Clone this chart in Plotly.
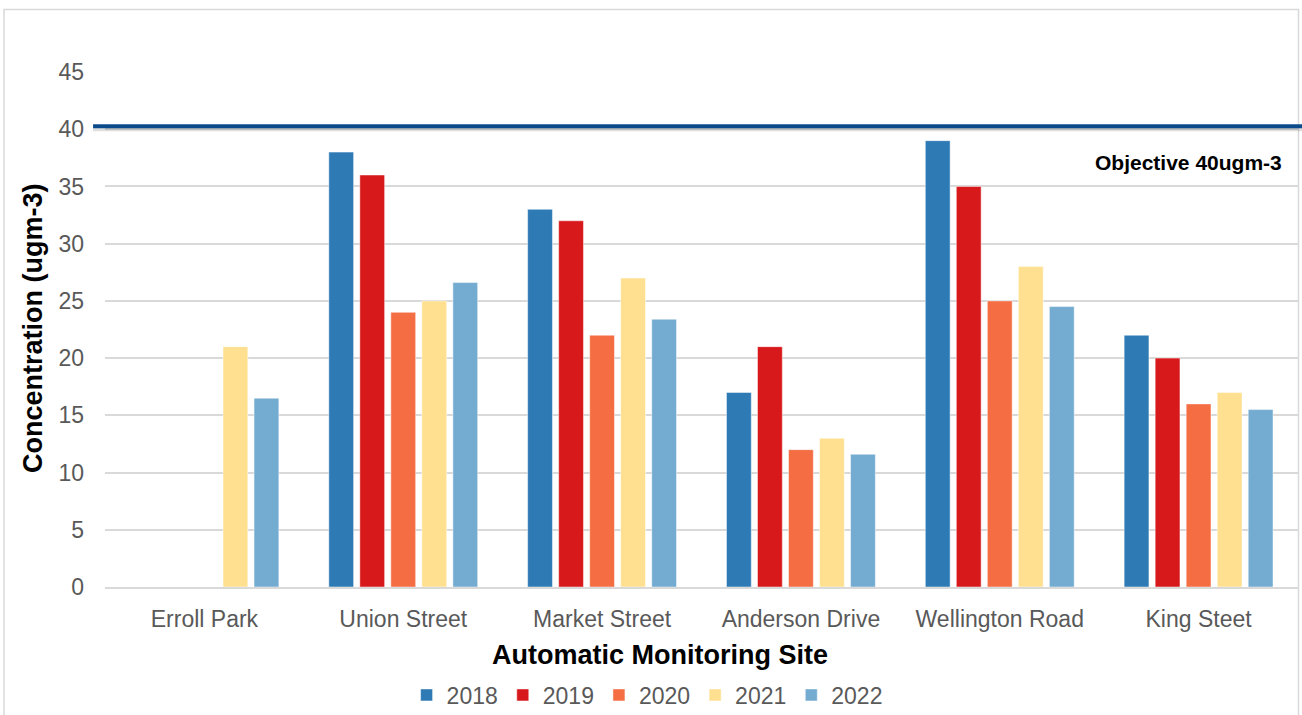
import plotly.graph_objects as go

sites = ["Erroll Park", "Union Street", "Market Street", "Anderson Drive",
         "Wellington Road", "King Steet"]
years = ["2018", "2019", "2020", "2021", "2022"]

v2018 = [None, 38, 33, 17, 39, 22]
v2019 = [None, 36, 32, 21, 35, 20]
v2020 = [None, 24, 22, 12, 25, 16]
v2021 = [21, 25, 27, 13, 28, 17]
v2022 = [16.5, 26.6, 23.4, 11.6, 24.5, 15.5]

colors = ["#2e7ab5", "#d7191c", "#f46d43", "#fee090", "#74acd1"]
objective = 40
y_ticks = [0, 5, 10, 15, 20, 25, 30, 35, 40, 45]

FONT = "Liberation Sans, Arial"
W, H = 1302, 715
L, R, T, B = 105, 4, 72, 128
plot_w, plot_h = W - L - R, H - T - B

fig = go.Figure()
for year, vals, col in zip(years, [v2018, v2019, v2020, v2021, v2022], colors):
    fig.add_trace(go.Bar(
        name=year, x=sites, y=vals, marker_color=col,
        marker_line=dict(color="rgba(255,255,255,0.6)", width=0.8),
    ))

# Objective line spanning the full width, with a soft shadow beneath
fig.add_shape(type="line", xref="paper", yref="y", x0=-0.01, x1=1.01,
              y0=objective + 0.05, y1=objective + 0.05,
              line=dict(color="rgba(0,0,0,0.13)", width=5), layer="above")
fig.add_shape(type="line", xref="paper", yref="y", x0=-0.01, x1=1.01,
              y0=objective + 0.25, y1=objective + 0.25,
              line=dict(color="#0b4a8b", width=4), layer="above")

fig.add_annotation(text="<b>Objective 40ugm-3</b>", xref="paper", yref="y",
                   x=(1284 - L) / plot_w, y=objective - 2.9,
                   xanchor="right", yanchor="middle", showarrow=False,
                   font=dict(family=FONT, size=21, color="#000000"))

# Axis titles
fig.add_annotation(text="<b>Automatic Monitoring Site</b>", xref="paper", yref="paper",
                   x=(660 - L) / plot_w, y=-(655 - (T + plot_h)) / plot_h,
                   xanchor="center", yanchor="middle", showarrow=False,
                   font=dict(family=FONT, size=27, color="#000000"))
fig.add_annotation(text="<b>Concentration (ugm-3)</b>", xref="paper", yref="paper",
                   x=(33 - L) / plot_w, y=(T + plot_h - 328) / plot_h,
                   xanchor="center", yanchor="middle", textangle=-90, showarrow=False,
                   font=dict(family=FONT, size=27, color="#000000"))

# Outer chart frame
fig.add_shape(type="rect", xref="paper", yref="paper",
              x0=(4 - L) / plot_w, x1=(1298.5 - L) / plot_w,
              y0=-(H + 10 - T - plot_h) / plot_h, y1=(T + plot_h - 9.5) / plot_h,
              line=dict(color="#d9d9d9", width=1.5), layer="below")

fig.update_layout(
    width=W, height=H,
    margin=dict(l=L, r=R, t=T, b=B, autoexpand=False),
    plot_bgcolor="white", paper_bgcolor="white",
    barmode="group", bargap=0.22, bargroupgap=0.2,
    font=dict(family=FONT, color="#595959", size=23),
    showlegend=True,
    legend=dict(orientation="h", xref="container", yref="container",
                x=0.497, xanchor="center", y=(H - 695) / H, yanchor="middle",
                font=dict(family=FONT, size=23, color="#595959"),
                itemwidth=30, tracegroupgap=0, traceorder="normal"),
    xaxis=dict(
        showgrid=False, showline=True, linecolor="#d9d9d9", linewidth=2,
        ticks="", tickfont=dict(family=FONT, size=23, color="#595959"),
        ticklabelstandoff=10, automargin=False,
    ),
    yaxis=dict(
        range=[0, 45], tickvals=y_ticks, showgrid=True, gridcolor="#d9d9d9",
        gridwidth=1.5, zeroline=False, showline=False, ticks="",
        ticklabelstandoff=20, automargin=False,
        tickfont=dict(family=FONT, size=23, color="#595959"),
    ),
)

fig.write_html("out.html")
